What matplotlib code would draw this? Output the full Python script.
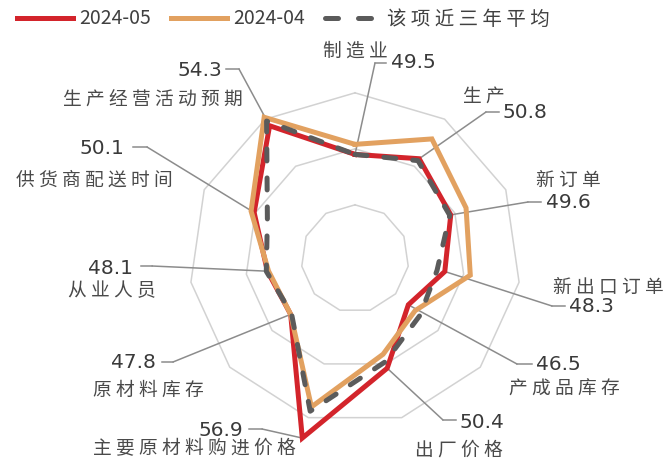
import numpy as np
import matplotlib
matplotlib.use("Agg")
import matplotlib.pyplot as plt
from matplotlib.lines import Line2D

plt.rcParams['font.family'] = ['Noto Sans CJK SC', 'DejaVu Sans']

# ---- data -------------------------------------------------------------
categories = ["制造业", "生产", "新订单", "新出口订单", "产成品库存", "出厂价格",
              "主要原材料购进价格", "原材料库存", "从业人员", "供货商配送时间",
              "生产经营活动预期"]
pmi_2024_05 = [49.5, 50.8, 49.6, 48.3, 46.5, 50.4, 56.9, 47.8, 48.1, 50.1, 54.3]
pmi_2024_04 = [50.4, 52.9, 51.1, 50.6, 47.3, 49.1, 54.0, 47.8, 48.0, 50.4, 55.2]
pmi_avg_3y = [49.5, 50.6, 49.5, 47.6, 47.9, 49.8, 54.4, 47.7, 48.2, 48.8, 54.8]
ring_levels = [45, 50, 55]
series_labels = ["2024-05", "2024-04", "该项近三年平均"]

# ---- figure / polar axes ----------------------------------------------
W, H = 669, 462
fig = plt.figure(figsize=(W / 100, H / 100), dpi=100)

r_min, r_max = 40.2, 57.5
cx, cy = 355, 258.6           # centre, pixels from top-left
scale = 11.2                  # pixels per index point
R = (r_max - r_min) * scale
ax = fig.add_axes([(cx - R) / W, (H - cy - R) / H, 2 * R / W, 2 * R / H],
                  projection='polar')
ax.set_theta_zero_location('N')
ax.set_theta_direction(-1)
ax.set_ylim(r_min, r_max)
ax.set_axis_off()

n = len(categories)
theta = np.linspace(0, 2 * np.pi, n, endpoint=False)
theta_c = np.append(theta, theta[0])


def closed(v):
    return np.append(np.asarray(v, float), v[0])


# grid rings
for lv in ring_levels:
    ax.plot(theta_c, np.full(n + 1, lv), color='#d2d2d2', lw=1.1, zorder=1)

red, orange, grey = '#d3242b', '#e2a160', '#5b5b5b'
lw = 3.6
ax.plot(theta_c, closed(pmi_2024_05), color=red, lw=lw, solid_joinstyle='miter',
        zorder=3, clip_on=False)
ax.plot(theta_c, closed(pmi_2024_04), color=orange, lw=lw, solid_joinstyle='miter',
        zorder=4, clip_on=False)
ax.plot(theta_c, closed(pmi_avg_3y), color=grey, lw=lw, dashes=(2.4, 3.4),
        dash_capstyle='round', zorder=5, clip_on=False)

# ---- labels with leader lines -------------------------------------------
# per category: value text (x, y, ha), name text (x, y, ha), elbow, tick end
layout = {
    0: ((391, 63, 'left'), (355, 51, 'center'), (375, 63), (386, 63)),
    1: ((503, 113, 'left'), (484, 96, 'center'), (486, 112), (499, 112)),
    2: ((546, 203, 'left'), (568, 180, 'center'), (528, 202), (541, 202)),
    3: ((569, 307, 'left'), (608, 287, 'center'), (552, 306), (565, 306)),
    4: ((536, 365, 'left'), (564, 389, 'center'), (517, 364), (532, 364)),
    5: ((460, 422, 'left'), (459, 450, 'center'), (443, 420), (456, 420)),
    6: ((243, 430, 'right'), (194, 449, 'center'), (262, 429), (249, 429)),
    7: ((156, 363, 'right'), (148, 390, 'center'), (173, 362), (162, 362)),
    8: ((133, 268, 'right'), (112, 291, 'center'), (152, 266), (141, 266)),
    9: ((124, 148, 'right'), (94, 180, 'center'), (147, 147), (133, 147)),
    10: ((222, 70, 'right'), (153, 99, 'center'), (239, 69), (226, 69)),
}

lead_color = '#8c8c8c'
num_color = '#3a3a3a'
name_color = '#4a4a4a'


def fp(x, y):
    """top-left pixel position -> figure fraction"""
    return (x / W, 1 - y / H)


for i, ((vx, vy, vha), (nx, ny, nha), elbow, tick) in layout.items():
    ax.annotate('', xy=(theta[i], pmi_2024_05[i]), xycoords='data',
                xytext=fp(*elbow), textcoords='figure fraction',
                arrowprops=dict(arrowstyle='-', color=lead_color, lw=1.1,
                                shrinkA=0, shrinkB=0), zorder=2)
    fig.add_artist(Line2D([elbow[0] / W, tick[0] / W],
                          [1 - elbow[1] / H, 1 - tick[1] / H],
                          color=lead_color, lw=1.1))
    fig.text(*fp(vx, vy), f"{pmi_2024_05[i]:.1f}", ha=vha, va='center',
             fontsize=14.5, color=num_color, family='DejaVu Sans')
    fig.text(*fp(nx, ny), " ".join(categories[i]), ha=nha, va='center',
             fontsize=13.5, color=name_color)

# ---- legend -------------------------------------------------------------
handles = [
    Line2D([], [], color=red, lw=lw),
    Line2D([], [], color=orange, lw=lw),
    Line2D([], [], color=grey, lw=lw, dashes=(2.6, 4.0), dash_capstyle='round'),
]
leg_labels = [series_labels[0], series_labels[1], " ".join(series_labels[2])]
fig.legend(handles, leg_labels, loc='center left',
           bbox_to_anchor=fp(17, 19), ncol=3, frameon=False,
           handlelength=2.9, handletextpad=0.28, columnspacing=1.05,
           borderpad=0, borderaxespad=0, fontsize=14, labelcolor='#404040')

fig.savefig('out.png', dpi=100)
